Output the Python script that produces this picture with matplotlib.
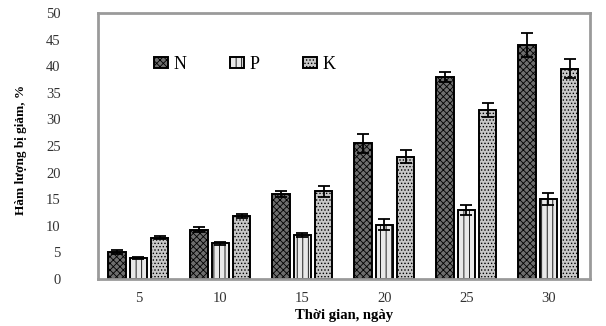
import matplotlib
matplotlib.use("Agg")
import matplotlib.pyplot as plt
import numpy as np

# --- Data ---
days = ["5", "10", "15", "20", "25", "30"]
n_vals = [5.1, 9.3, 16.0, 25.5, 38.0, 44.0]
p_vals = [4.0, 6.7, 8.3, 10.2, 13.0, 15.0]
k_vals = [7.8, 11.8, 16.5, 23.0, 31.8, 39.5]
n_err = [0.3, 0.4, 0.5, 1.8, 1.0, 2.2]
p_err = [0.2, 0.3, 0.4, 1.0, 0.9, 1.1]
k_err = [0.3, 0.4, 1.0, 1.2, 1.3, 1.8]

plt.rcParams["font.family"] = ["Liberation Serif", "DejaVu Serif"]
plt.rcParams["hatch.linewidth"] = 0.6

fig = plt.figure(figsize=(6.06, 3.26), dpi=100)
ax = fig.add_axes([0.162, 0.144, 0.812, 0.816])

x = np.arange(len(days))
w = 0.21
off = 0.26
common = dict(width=w, edgecolor="black", linewidth=1.4,
              error_kw=dict(elinewidth=1.3, capsize=4, capthick=1.3, ecolor="black"))
ax.bar(x - off, n_vals, yerr=n_err, color="#6e6e6e", hatch="xxxxx", label="N", **common)
ax.bar(x, p_vals, yerr=p_err, color="#e8e8e8", hatch="|||", label="P", **common)
ax.bar(x + off, k_vals, yerr=k_err, color="#c8c8c8", hatch=".....", label="K", **common)

ax.set_xlim(-0.49, 5.51)
ax.set_ylim(0, 50)
ax.set_yticks(np.arange(0, 51, 5))
ax.set_xticks(x)
ax.set_xticklabels(days)
ax.tick_params(axis="both", length=0, labelsize=10.5, colors="#333333")
ax.tick_params(axis="y", pad=27)
ax.tick_params(axis="x", pad=9)
for s in ax.spines.values():
    s.set_color("#9a9a9a")
    s.set_linewidth(2)

ax.set_xlabel("Thời gian, ngày", fontsize=10.5, fontweight="bold", labelpad=3)
fig.text(0.035, 0.54, "Hàm lượng bị giảm, %", rotation=90, fontsize=9.5,
         fontweight="bold", ha="center", va="center")

leg = ax.legend(ncol=3, frameon=False, loc="upper left", bbox_to_anchor=(0.08, 0.9),
                fontsize=13, handlelength=0.8, handleheight=0.6, columnspacing=2.4,
                handletextpad=0.3)

fig.savefig("out.png", dpi=100)
